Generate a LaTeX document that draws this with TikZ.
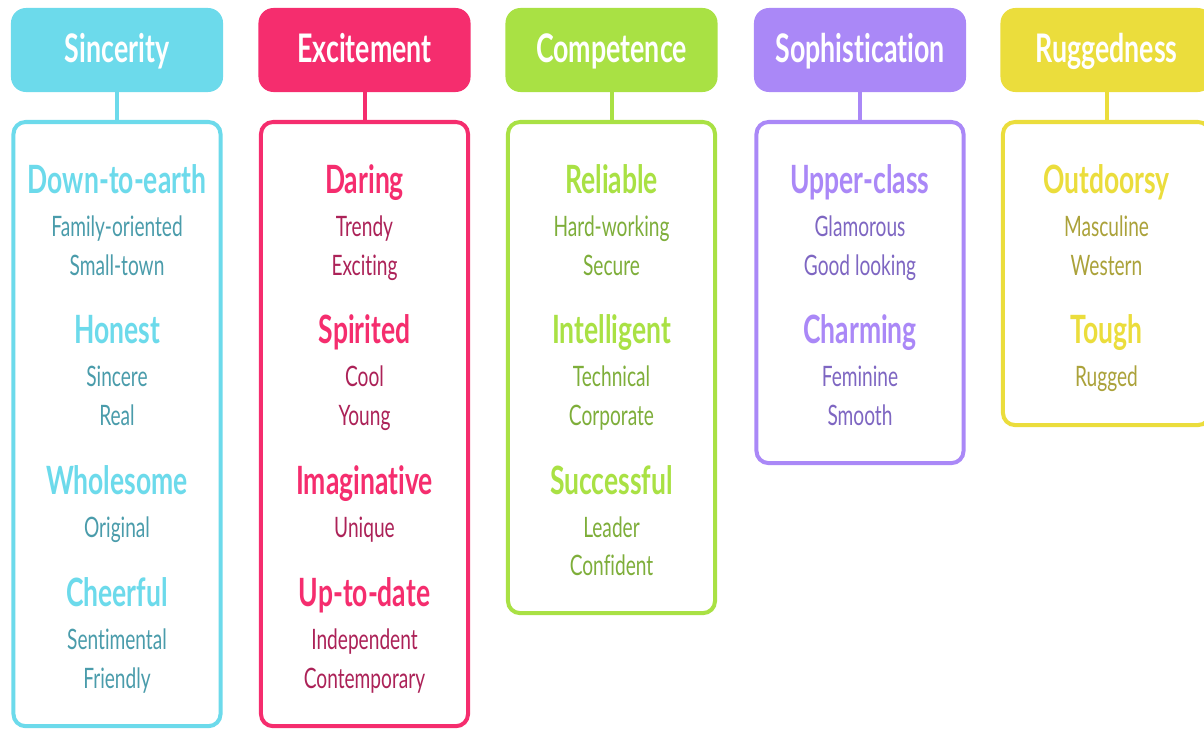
\documentclass[tikz,border=0pt]{standalone}
\usepackage{fontspec}
\setmainfont[FakeStretch=0.68, Ligatures=NoCommon]{Lato}
\definecolor{sinc}{HTML}{6CDAEB}\definecolor{sincD}{HTML}{4A9CAB}
\definecolor{exci}{HTML}{F52D6E}\definecolor{exciD}{HTML}{AC2258}
\definecolor{comp}{HTML}{A9E144}\definecolor{compD}{HTML}{7EAE3A}
\definecolor{soph}{HTML}{AA88F7}\definecolor{sophD}{HTML}{7E66C2}
\definecolor{rugg}{HTML}{EBDD3C}\definecolor{ruggD}{HTML}{ABA23A}
\begin{document}
\begin{tikzpicture}[x=0.025cm, y=-0.025cm,
  head/.style={fill=#1, text=white, rounded corners=0.375cm, minimum width=5.3cm, minimum height=2.1cm, inner sep=0pt, text height=0.75cm, text depth=0.15cm, font=\fontsize{28}{30}\selectfont\bfseries},
  panel/.style={draw=#1, fill=white, line width=0.1cm, rounded corners=0.3cm, minimum width=5.175cm, anchor=north, outer sep=0pt, inner sep=0pt},
  link/.style={draw=#1, line width=0.1cm},
  trait/.style={text=#1, anchor=base, inner sep=0pt, font=\fontsize{27.7}{30}\selectfont\bfseries},
  facet/.style={text=#1, anchor=base, inner sep=0pt, font=\fontsize{20}{22}\selectfont}]
\useasboundingbox (0,0) rectangle (1204,729);
\clip (0,0) rectangle (1204,729);
% headers and their boxes
\node[head=sinc] (H_0) at (117,50) {Sincerity};
\node[panel=sinc, minimum height=15.1cm] (B_0) at (117,122) {};
\draw[link=sinc] (H_0) -- (B_0);
\node[head=exci] (H_1) at (364.5,50) {Excitement};
\node[panel=exci, minimum height=15.1cm] (B_1) at (364.5,122) {};
\draw[link=exci] (H_1) -- (B_1);
\node[head=comp] (H_2) at (611.5,50) {Competence};
\node[panel=comp, minimum height=12.275cm] (B_2) at (611.5,122) {};
\draw[link=comp] (H_2) -- (B_2);
\node[head=soph] (H_3) at (860,50) {Sophistication};
\node[panel=soph, minimum height=8.525cm] (B_3) at (860,122) {};
\draw[link=soph] (H_3) -- (B_3);
\node[head=rugg] (H_4) at (1106.5,50) {Ruggedness};
\node[panel=rugg, minimum height=7.575cm] (B_4) at (1106.5,122) {};
\draw[link=rugg] (H_4) -- (B_4);
% sincerity
\node[trait=sinc] (T_0_0) at (117,193) {Down-to-earth};
\node[facet=sincD] (T_0_1) at (117,236) {Family-oriented};
\node[facet=sincD] (T_0_2) at (117,275) {Small-town};
\node[trait=sinc] (T_0_3) at (117,343) {Honest};
\node[facet=sincD] (T_0_4) at (117,386) {Sincere};
\node[facet=sincD] (T_0_5) at (117,425) {Real};
\node[trait=sinc] (T_0_6) at (117,494) {Wholesome};
\node[facet=sincD] (T_0_7) at (117,537) {Original};
\node[trait=sinc] (T_0_8) at (117,606) {Cheerful};
\node[facet=sincD] (T_0_9) at (117,649) {Sentimental};
\node[facet=sincD] (T_0_10) at (117,688) {Friendly};
% excitement
\node[trait=exci] (T_1_0) at (364.5,193) {Daring};
\node[facet=exciD] (T_1_1) at (364.5,236) {Trendy};
\node[facet=exciD] (T_1_2) at (364.5,275) {Exciting};
\node[trait=exci] (T_1_3) at (364.5,343) {Spirited};
\node[facet=exciD] (T_1_4) at (364.5,386) {Cool};
\node[facet=exciD] (T_1_5) at (364.5,425) {Young};
\node[trait=exci] (T_1_6) at (364.5,494) {Imaginative};
\node[facet=exciD] (T_1_7) at (364.5,537) {Unique};
\node[trait=exci] (T_1_8) at (364.5,606) {Up-to-date};
\node[facet=exciD] (T_1_9) at (364.5,649) {Independent};
\node[facet=exciD] (T_1_10) at (364.5,688) {Contemporary};
% competence
\node[trait=comp] (T_2_0) at (611.5,193) {Reliable};
\node[facet=compD] (T_2_1) at (611.5,236) {Hard-working};
\node[facet=compD] (T_2_2) at (611.5,275) {Secure};
\node[trait=comp] (T_2_3) at (611.5,343) {Intelligent};
\node[facet=compD] (T_2_4) at (611.5,386) {Technical};
\node[facet=compD] (T_2_5) at (611.5,425) {Corporate};
\node[trait=comp] (T_2_6) at (611.5,494) {Successful};
\node[facet=compD] (T_2_7) at (611.5,537) {Leader};
\node[facet=compD] (T_2_8) at (611.5,575) {Confident};
% sophistication
\node[trait=soph] (T_3_0) at (860,193) {Upper-class};
\node[facet=sophD] (T_3_1) at (860,236) {Glamorous};
\node[facet=sophD] (T_3_2) at (860,275) {Good looking};
\node[trait=soph] (T_3_3) at (860,343) {Charming};
\node[facet=sophD] (T_3_4) at (860,386) {Feminine};
\node[facet=sophD] (T_3_5) at (860,425) {Smooth};
% ruggedness
\node[trait=rugg] (T_4_0) at (1106.5,193) {Outdoorsy};
\node[facet=ruggD] (T_4_1) at (1106.5,236) {Masculine};
\node[facet=ruggD] (T_4_2) at (1106.5,275) {Western};
\node[trait=rugg] (T_4_3) at (1106.5,343) {Tough};
\node[facet=ruggD] (T_4_4) at (1106.5,386) {Rugged};
\end{tikzpicture}
\end{document}
